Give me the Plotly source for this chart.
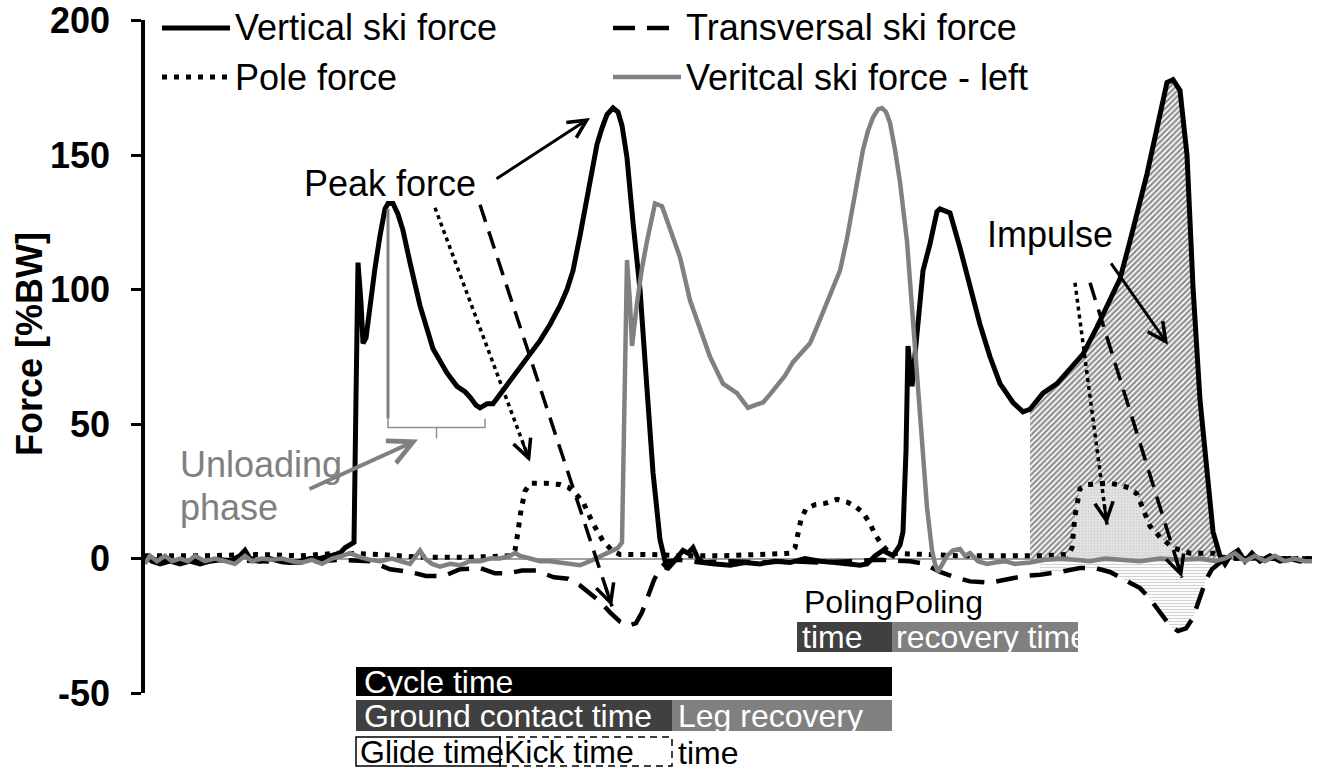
import plotly.graph_objects as go

FONT = "Liberation Sans, Arial, sans-serif"

# ---------------- data (x = sample index, y = force in %BW) ----------------
vert_pts = [(0,1),(7,-1),(15,-2),(25,-1),(35,-2),(45,-1),(55,-2),(65,-1),(75,-0.5),(85,-1),
            (95,1),(100,3),(105,0),(115,-1),(125,0),(135,-1),(145,-1.5),(155,-1),(165,0),(175,0),
            (185,1),(195,2),(200,4),(205,5),(209,6),(211,60),(213,110),(216,95),(218,80),(221,82),
            (225,94),(230,108),(235,120),(240,130),(243,132),(248,132),(253,128),(258,122),(265,110),
            (275,94),(288,78),(302,69),(312,64),(320,62),(325,60),(331,57),(335,56),(342,57.5),
            (348,57.5),(355,61),(362,64),(370,68),(378,72),(386,76),(395,81),(405,87),(415,94),
            (422,100),(428,107),(435,120),(442,134),(447,145),(452,154),(457,160),(462,165),
            (468,167.5),(473,166),(477,161),(482,149),(488,125),(495,100),(502,63),(508,32),(515,7),
            (522,-4),(527,-2),(532,0),(538,3),(543,2),(548,4),(553,0),(558,-1.5),(570,-2),(585,-2.5),
            (600,-1.5),(615,-2),(630,-1),(645,-1.5),(660,0),(675,-1),(690,-1.5),(705,-2),(715,-2.5),
            (722,-2),(730,1),(738,3),(748,1),(755,5),(758,10),(761,40),(763,79),(767,64),(772,84),
            (778,107),(785,117),(792,129),(795,130),(805,128.5),(815,115.5),(825,101),(835,87),
            (845,75),(855,65),(868,58),(878,54.5),(885,55.5),(888,57),(898,61.5),(912,65),(925,70.5),
            (938,76),(952,86),(965,96),(975,104),(985,118),(995,132),(1002,143),(1012,160),(1022,177),
            (1028,178),(1035,174),(1042,150),(1048,101),(1055,59),(1063,31.5),(1068,10),(1075,1),
            (1080,-2),(1085,1),(1093,3),(1100,-1),(1107,2),(1115,-1),(1125,1),(1135,-1),(1145,0),
            (1155,-1),(1167,0)]

left_pts = [(0,-2),(5,1),(12,-1),(20,1),(27,-1),(35,0),(43,-1),(50,1),(60,-1),(70,0),(80,-1),
            (90,-2),(100,1),(107,-1),(117,0),(127,-0.5),(137,0),(147,-1),(157,-1.5),(167,-0.5),
            (177,-2),(187,0),(197,1),(205,2),(215,0.5),(225,-0.5),(235,-1),(247,0),(255,-1),(265,-2),
            (271,1),(275,3),(280,0),(287,-2),(295,-3),(305,-2),(315,-2.5),(325,-1),(335,-1),(345,0),
            (355,0),(365,1),(370,2),(375,1),(385,0),(395,-1),(405,-1),(415,-1.5),(425,-2),(435,-2.5),
            (445,-1),(455,1),(462,2),(468,3),(473,4),(477,6),(479,50),(482,111),(485,95),(487,79),
            (492,95),(497,108),(502,118),(507,128),(510,132),(517,131),(525,122),(535,112),(545,96),
            (555,85),(565,75),(578,65),(592,61.5),(597,59),(603,56),(610,57),(618,58),(625,61),
            (632,64),(640,68),(648,73),(655,76),(665,80),(673,87),(682,95),(690,102),(695,107),
            (702,119),(708,131),(713,142),(718,152),(723,159),(728,164),(733,167),(737,167.5),
            (741,166),(745,162),(750,152),(755,140),(762,118),(768,88),(775,50),(782,19),(787,3),
            (790,-2),(793,-5),(797,-2),(802,1),(808,3),(815,3.5),(820,1),(825,2),(833,-1),(842,-2),
            (850,-1.5),(860,-1),(870,-2),(885,-1.5),(900,-0.5),(915,0),(930,-0.5),(945,-1),(960,0),
            (975,-0.5),(995,-1),(1015,0),(1035,-0.5),(1055,0),(1070,-1),(1080,0),(1090,2),(1100,-1),
            (1110,1),(1120,-1),(1130,1),(1140,-1),(1150,0),(1160,-1),(1167,-1)]

pole_pts = [(0,1),(55,1),(115,1.5),(155,1),(195,2),(235,1.5),(275,0.5),(325,0.5),(365,1),(370,3),
            (373,10),(376,18),(380,25),(385,28),(400,28),(415,27.5),(423,26.5),(430,24.5),(438,21),
            (448,13),(458,6.5),(467,3),(475,1.5),(505,1.5),(535,1),(575,1),(615,1.5),(645,2),(650,4),
            (653,10),(656,14.5),(661,18.5),(670,20),(680,20.5),(692,22),(702,21),(710,19.5),(718,17),
            (725,13),(730,9),(737,5),(745,2),(775,1.5),(815,1),(855,1),(895,1),(923,1.5),(927,4),
            (930,16),(935,26),(942,27.5),(955,28),(965,28),(978,27),(985,26),(992,24),(998,18),
            (1005,12),(1015,8),(1028,4),(1045,2),(1068,2),(1077,0.5),(1095,0),(1167,0)]

trans_pts = [(0,0),(35,-1),(75,-0.5),(115,-1),(155,-1.5),(195,-0.5),(225,-1),(245,-4),(265,-5),
             (281,-6.5),(299,-6.5),(315,-4),(335,-3.5),(350,-5.5),(363,-5.5),(377,-4.5),(391,-4.5),
             (409,-7),(423,-7.5),(435,-10),(445,-13),(455,-16),(465,-20),(475,-23.5),(483,-25),
             (491,-24),(497,-20),(503,-14),(509,-8),(515,-3.5),(523,-1),(535,-0.5),(555,-1.5),
             (585,-1),(615,-1.5),(645,-1),(675,-1.5),(705,-1),(735,-0.5),(765,-1),(780,-2),(795,-5),
             (810,-7),(825,-8.5),(845,-9),(865,-7.5),(880,-6.5),(895,-6),(915,-5),(935,-3.5),
             (950,-3.5),(965,-5),(980,-8),(995,-11),(1005,-15),(1015,-20),(1025,-25),(1033,-27),
             (1041,-26),(1048,-22),(1055,-14),(1061,-8),(1067,-4),(1075,-1.5),(1085,0),(1167,0)]

series_names = ["Vertical ski force", "Transversal ski force", "Pole force", "Veritcal ski force - left"]

y_ticks = [-50, 0, 50, 100, 150, 200]
y_tick_text = ["-50", "0", "50", "100", "150", "200"]

# phase boundaries (sample index)
cycle_start, cycle_end = 211, 747
contact_end = 527
glide_end = 355
poling_start, poling_end, poling_rec_end = 652, 747, 933
unload_start, unload_end = 243, 340
unload_top, unload_bottom = 130, 52
vert_imp = (885, 1075)
pole_imp = (923, 1045)
trans_imp = (888, 1067)

# ---------------- helpers ----------------
def xs(pts): return [p[0] for p in pts]
def ys(pts): return [p[1] for p in pts]
def window(pts, lo, hi): return [p for p in pts if lo <= p[0] <= hi]

# plot area in pixels: x 145..1312, y 20..693
PL, PR, PT, PB = 145, 1312, 20, 693
def px_x(px): return (px - PL) / (PR - PL)          # paper x
def px_y(py): return (PB - py) / (PB - PT)          # paper y

fig = go.Figure()

# impulse fills
vw = window(vert_pts, *vert_imp)
fig.add_trace(go.Scatter(x=xs(vw), y=ys(vw), mode="lines", line=dict(width=0), fill="tozeroy",
                         fillcolor="rgba(0,0,0,0)",
                         fillpattern=dict(shape="/", fgcolor="#1e1e1e", bgcolor="#ffffff", size=4, solidity=0.55),
                         hoverinfo="skip"))
pw = window(pole_pts, *pole_imp)
fig.add_trace(go.Scatter(x=xs(pw), y=ys(pw), mode="lines", line=dict(width=0), fill="tozeroy",
                         fillcolor="rgba(0,0,0,0)",
                         fillpattern=dict(shape=".", fgcolor="#bdbdbd", bgcolor="#e4e4e4", size=3, solidity=0.4),
                         hoverinfo="skip"))
tw = window(trans_pts, *trans_imp)
fig.add_trace(go.Scatter(x=xs(tw), y=ys(tw), mode="lines", line=dict(width=0), fill="tozeroy",
                         fillcolor="rgba(0,0,0,0)",
                         fillpattern=dict(shape="-", fgcolor="#a8a8a8", bgcolor="#ffffff", size=3, solidity=0.4),
                         hoverinfo="skip"))

# curves
fig.add_trace(go.Scatter(x=xs(vert_pts), y=ys(vert_pts), name=series_names[0], mode="lines",
                         line=dict(color="black", width=5)))
fig.add_trace(go.Scatter(x=xs(trans_pts), y=ys(trans_pts), name=series_names[1], mode="lines",
                         line=dict(color="black", width=4.5, dash="22px,12px")))
fig.add_trace(go.Scatter(x=xs(pole_pts), y=ys(pole_pts), name=series_names[2], mode="lines",
                         line=dict(color="black", width=5, dash="5px,7px")))
fig.add_trace(go.Scatter(x=xs(left_pts), y=ys(left_pts), name=series_names[3], mode="lines",
                         line=dict(color="#808080", width=4.5)))

shapes = []
annotations = []

# ---- manual legend ----
leg_rows = [28, 77]
leg_cols = [(162, 230), (613, 681)]
leg_styles = [dict(color="black", width=5), dict(color="black", width=4.5, dash="22px,12px"),
              dict(color="black", width=5, dash="5px,7px"), dict(color="#808080", width=4.5)]
for i, name in enumerate(series_names):
    r, c = divmod(i, 2)
    x0, x1 = leg_cols[c]
    yy = px_y(leg_rows[r])
    shapes.append(dict(type="line", xref="paper", yref="paper", x0=px_x(x0), x1=px_x(x1), y0=yy, y1=yy,
                       line=leg_styles[i]))
    annotations.append(dict(xref="paper", yref="paper", x=px_x(x1 + 3), y=yy, text=name, showarrow=False,
                            xanchor="left", yanchor="middle", font=dict(size=36, color="black", family=FONT)))

# ---- unloading phase marker ----
shapes.append(dict(type="line", xref="x", yref="y", x0=unload_start, x1=unload_start, y0=unload_bottom, y1=unload_top,
                   line=dict(color="#808080", width=3)))
ub = unload_bottom - 3.3
um = (unload_start + unload_end) / 2
shapes.append(dict(type="path", xref="x", yref="y",
                   path=f"M{unload_start},{unload_bottom} L{unload_start},{ub} L{unload_end},{ub} L{unload_end},{unload_bottom} M{um},{ub} L{um},{ub-4}",
                   line=dict(color="#909090", width=1.5)))

# ---- arrows ----
def solid_arrow(tail, head, color="black", width=3):
    annotations.append(dict(x=head[0], y=head[1], ax=tail[0], ay=tail[1], xref="x", yref="y", axref="x", ayref="y",
                            showarrow=True, arrowhead=5, arrowsize=1.2, arrowwidth=width, arrowcolor=color,
                            standoff=0, text=""))

def styled_arrow(tail, head, dash, off):
    shapes.append(dict(type="line", xref="x", yref="y", x0=tail[0], y0=tail[1], x1=head[0], y1=head[1],
                       line=dict(color="black", width=3.5, dash=dash)))
    annotations.append(dict(x=head[0], y=head[1], ax=off[0], ay=off[1], xref="x", yref="y",
                            showarrow=True, arrowhead=5, arrowsize=1.2, arrowwidth=3, arrowcolor="black",
                            standoff=0, text=""))

solid_arrow((350, 140.8), (445, 163.8))
styled_arrow((290, 130.4), (385, 36.0), "4px,4px", (-8, -21))
styled_arrow((335, 131.5), (467, -17.8), "18px,10px", (-7, -21))
solid_arrow((965, 110.3), (1023, 79.5))
styled_arrow((930, 102.5), (962, 12.6), "4px,4px", (-3, -22))
styled_arrow((945, 102.5), (1037, -7.1), "18px,10px", (-7, -21))
solid_arrow((163, 25.6), (273, 44.2), color="#808080", width=4)

# ---- text labels ----
def label(x, y, text, color="black", size=36, xanchor="center", xref="x", yref="y", bold=False):
    annotations.append(dict(x=x, y=y, xref=xref, yref=yref, text=text, showarrow=False, xanchor=xanchor,
                            yanchor="middle", font=dict(size=size, color=color, family=FONT,
                                                        weight="bold" if bold else "normal")))

label(245, 139.5, "Peak force")
label(905, 120.4, "Impulse")
label(33, 34.9, "Unloading", color="#808080", xanchor="left")
label(33, 18.9, "phase", color="#808080", xanchor="left")

# ---- timing bars ----
def bar(x0, x1, py0, py1, fill=None, line=None):
    d = dict(type="rect", xref="x", yref="paper", x0=x0, x1=x1, y0=px_y(py1), y1=px_y(py0), layer="above")
    d["fillcolor"] = fill if fill else "rgba(0,0,0,0)"
    d["line"] = line if line else dict(width=0)
    shapes.append(d)

bar(cycle_start, cycle_end, 667, 696, fill="black")
bar(cycle_start, contact_end, 700, 731, fill="#404040")
bar(contact_end, cycle_end, 700, 731, fill="#808080")
bar(cycle_start, glide_end, 737, 766, fill="white", line=dict(color="black", width=1.5))
bar(glide_end, contact_end, 737, 766, line=dict(color="black", width=1.5, dash="7px,5px"))
bar(poling_start, poling_end, 622, 652, fill="#404040")
bar(poling_end, poling_rec_end, 622, 652, fill="#808080")

BS = 32
label(cycle_start + 6, px_y(682), "Cycle time", color="white", size=BS, xanchor="left", yref="paper")
label(cycle_start + 6, px_y(716), "Ground contact time", color="white", size=BS, xanchor="left", yref="paper")
label(contact_end + 4, px_y(716), "Leg recovery", color="white", size=BS, xanchor="left", yref="paper")
label(cycle_start + 2, px_y(752), "Glide time", size=BS, xanchor="left", yref="paper")
label(glide_end + 2, px_y(752), "Kick time", size=BS, xanchor="left", yref="paper")
label(contact_end + 4, px_y(753), "time", size=BS, xanchor="left", yref="paper")
label(poling_start + 5, px_y(602), "Poling", size=BS, xanchor="left", yref="paper")
label(poling_end + 0, px_y(602), "Poling", size=BS, xanchor="left", yref="paper")
label(poling_start + 3, px_y(637), "time", color="white", size=BS, xanchor="left", yref="paper")
label(poling_end + 2, px_y(637), "recovery time", color="white", size=BS, xanchor="left", yref="paper")

# y-axis title
annotations.append(dict(xref="paper", yref="paper", x=px_x(30), y=px_y(344), text="Force [%BW]", showarrow=False,
                        textangle=-90, xanchor="center", yanchor="middle",
                        font=dict(size=36, color="black", family=FONT, weight="bold")))

fig.update_layout(
    width=1327, height=774,
    margin=dict(l=PL, r=1327 - PR, t=PT, b=774 - PB, autoexpand=False),
    paper_bgcolor="white", plot_bgcolor="white",
    showlegend=False,
    xaxis=dict(range=[0, 1167], visible=False, fixedrange=True),
    yaxis=dict(range=[-50, 200.2], tickvals=y_ticks, ticktext=y_tick_text, ticks="outside", ticklen=10,
               tickwidth=3, tickcolor="black", showline=True, linewidth=3.5, linecolor="black",
               showgrid=False, zeroline=True, zerolinecolor="#a0a0a0", zerolinewidth=1.5,
               ticklabelstandoff=14, ticklabeloverflow="allow", fixedrange=True,
               tickfont=dict(size=36, color="black", family=FONT, weight="bold")),
    shapes=shapes, annotations=annotations,
    font=dict(family=FONT),
)

fig.write_html("out.html", config={"displayModeBar": False},
               post_script="document.body.style.margin='0px';document.body.style.overflow='hidden';")
